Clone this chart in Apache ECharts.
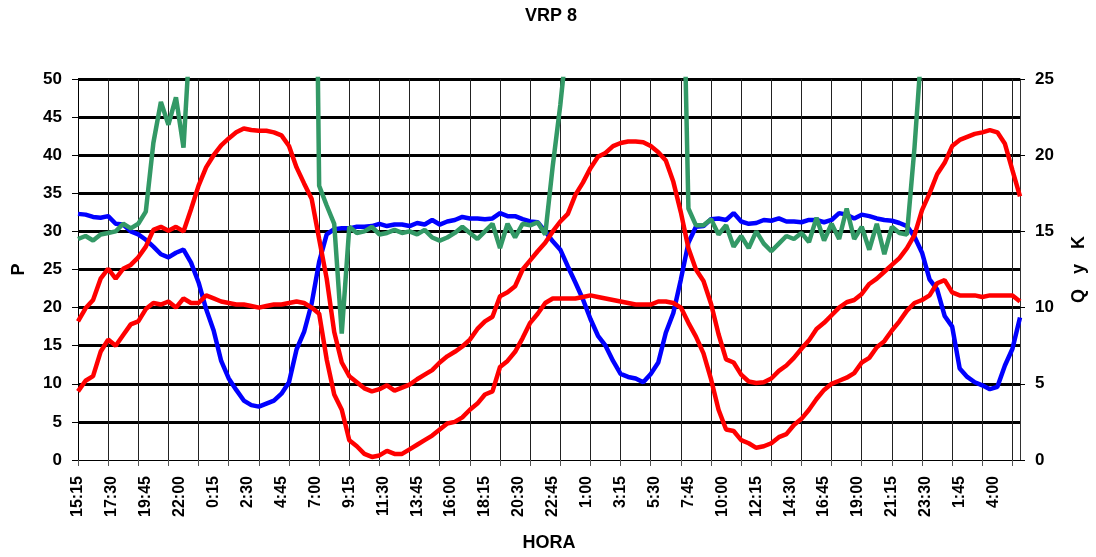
<!DOCTYPE html>
<html>
<head>
<meta charset="utf-8">
<title>VRP 8</title>
<script src="https://cdn.jsdelivr.net/npm/echarts@6/dist/echarts.min.js"></script>
<style>
html, body { margin: 0; padding: 0; background: #fff; }
#main { width: 1096px; height: 557px; }
</style>
</head>
<body>
<div id="main"></div>
<script>
// lecturas cada 15 min desde las 15:15, los valores de abajo van una lectura si y otra no
var startMin = 15 * 60 + 15
var nReadings = 251
var step = 2

var horas = []
for (var i = 0; i < nReadings; i++) {
    var m = startMin + i * 15
    var mm = m % 60
    horas.push((Math.floor(m / 60) % 24) + ':' + (mm < 10 ? '0' + mm : mm))
}

// P (azul) - eje izquierdo
var pAzul = [
    32.3, 32.2, 31.9, 31.8, 32.0, 31.0, 30.9, 30.0,
    29.6, 28.9, 28.0, 27.0, 26.6, 27.2, 27.6, 25.9,
    23.3, 19.8, 17.0, 13.0, 10.7, 9.2, 7.8, 7.2,
    7.0, 7.4, 7.8, 8.7, 10.2, 14.5, 16.8, 20.5,
    26.0, 29.6, 30.3, 30.4, 30.4, 30.6, 30.6, 30.7,
    31.0, 30.7, 30.9, 30.9, 30.7, 31.1, 30.9, 31.5,
    30.9, 31.3, 31.5, 31.9, 31.7, 31.7, 31.6, 31.7,
    32.4, 32.0, 32.0, 31.6, 31.3, 31.2, 30.0, 28.7,
    27.6, 25.4, 23.3, 21.1, 18.5, 16.3, 15.0, 13.0,
    11.3, 10.9, 10.7, 10.2, 11.3, 12.8, 16.7, 19.3,
    23.7, 28.5, 30.6, 30.7, 31.6, 31.7, 31.5, 32.4,
    31.3, 31.0, 31.1, 31.5, 31.4, 31.7, 31.3, 31.3,
    31.2, 31.5, 31.5, 31.2, 31.5, 32.4, 32.2, 31.7,
    32.2, 32.0, 31.7, 31.5, 31.4, 31.1, 30.7, 29.3,
    27.2, 23.7, 22.4, 18.9, 17.5, 12.0, 10.9, 10.2,
    9.8, 9.3, 9.6, 12.4, 14.6, 18.7
]

// rojo de gran oscilacion - eje izquierdo
var pRojo = [
    18.2, 19.9, 21.0, 23.8, 25.1, 23.8, 25.1, 25.6,
    26.6, 28.0, 30.2, 30.6, 30.1, 30.6, 30.0, 32.9,
    36.0, 38.4, 40.0, 41.3, 42.2, 43.0, 43.5, 43.3,
    43.2, 43.2, 43.0, 42.6, 41.2, 38.4, 36.3, 34.3,
    29.0, 23.8, 16.8, 12.8, 11.0, 10.2, 9.4, 9.0,
    9.3, 9.8, 9.1, 9.5, 9.9, 10.6, 11.2, 11.8,
    12.8, 13.6, 14.2, 14.9, 15.8, 17.2, 18.2, 18.8,
    21.5, 22.0, 22.8, 25.0, 26.2, 27.4, 28.5, 30.0,
    31.3, 32.3, 34.8, 36.4, 38.3, 39.8, 40.3, 41.2,
    41.6, 41.8, 41.8, 41.7, 41.2, 40.4, 39.3, 36.5,
    32.5, 27.8, 25.0, 23.5, 20.5, 16.5, 13.2, 12.8,
    11.2, 10.3, 10.1, 10.2, 10.7, 11.7, 12.4, 13.4,
    14.6, 15.7, 17.2, 18.0, 19.0, 20.0, 20.7, 21.0,
    21.8, 23.1, 23.8, 24.7, 25.6, 26.5, 27.8, 29.5,
    32.8, 35.0, 37.5, 39.0, 41.2, 42.0, 42.4, 42.8,
    43.0, 43.3, 43.0, 41.5, 38.0, 34.6
]

// K (rojo) - eje derecho
var kRojo = [
    4.5, 5.2, 5.5, 7.1, 7.9, 7.5, 8.2, 8.9,
    9.1, 9.9, 10.3, 10.2, 10.4, 10.0, 10.6, 10.3,
    10.3, 10.8, 10.6, 10.4, 10.3, 10.2, 10.2, 10.1,
    10.0, 10.1, 10.2, 10.2, 10.3, 10.4, 10.3, 10.0,
    9.6, 6.6, 4.3, 3.3, 1.3, 0.9, 0.4, 0.2,
    0.3, 0.6, 0.4, 0.4, 0.7, 1.0, 1.3, 1.6,
    2.0, 2.4, 2.5, 2.8, 3.3, 3.7, 4.3, 4.5,
    6.1, 6.5, 7.1, 8.0, 9.0, 9.6, 10.3, 10.6,
    10.6, 10.6, 10.6, 10.7, 10.8, 10.7, 10.6, 10.5,
    10.4, 10.3, 10.2, 10.2, 10.2, 10.4, 10.4, 10.3,
    10.0, 9.0, 8.1, 7.0, 5.3, 3.3, 2.0, 1.9,
    1.3, 1.1, 0.8, 0.9, 1.1, 1.5, 1.7, 2.3,
    2.7, 3.3, 4.0, 4.6, 5.0, 5.2, 5.4, 5.7,
    6.4, 6.7, 7.4, 7.8, 8.5, 9.1, 9.8, 10.3,
    10.5, 10.8, 11.6, 11.8, 11.0, 10.8, 10.8, 10.8,
    10.7, 10.8, 10.8, 10.8, 10.8, 10.4
]

// Q (verde) - eje derecho, se sale por arriba
var qVerde = [
    14.5, 14.7, 14.4, 14.8, 14.9, 15.0, 15.5, 15.2,
    15.5, 16.3, 20.8, 23.5, 22.0, 23.8, 20.5, 29.0,
    33, 35, 36, 36, 37, 37, 38, 38,
    38, 38, 37, 37, 36, 36, 40, 60,
    18.0, 16.7, 15.5, 8.3, 15.3, 14.9, 15.0, 15.3,
    14.8, 14.9, 15.1, 14.9, 15.0, 14.8, 15.1, 14.6,
    14.4, 14.6, 14.9, 15.3, 14.9, 14.5, 15.0, 15.5,
    13.9, 15.5, 14.6, 15.5, 15.4, 15.6, 14.8, 19.3,
    23.3, 28.0, 33, 35, 36, 37, 37, 38,
    38, 38, 38, 37, 37, 37, 36, 36,
    40.0, 16.5, 15.4, 15.4, 15.8, 14.8, 15.4, 14.0,
    14.7, 13.9, 15.0, 14.2, 13.7, 14.2, 14.7, 14.5,
    14.9, 14.3, 15.9, 14.4, 15.5, 14.5, 16.5, 14.5,
    15.3, 13.8, 15.5, 13.5, 15.3, 14.9, 14.8, 20.5,
    27.5, 33, 35, 36, 37, 37, 38, 38,
    38, 38, 38, 38, 38, 38
]

function pares(arr) {
    return arr.map(function(v, k) { return [k * step, v] })
}

var fuente = '"Liberation Sans", Arial, sans-serif'
var myChart = echarts.init(document.getElementById('main'))

function serie(nombre, arr, color, eje) {
    return {
        name : nombre,
        type : 'line',
        yAxisIndex : eje,
        data : pares(arr),
        symbol : 'none',
        clip : true,
        lineStyle : { color : color, width : 4.5 },
        itemStyle : { color : color }
    }
}

var option = {
    animation : false,
    backgroundColor : '#fff',
    title : {
        text : 'VRP 8',
        left : 520,
        top : 2,
        textStyle : { fontFamily : fuente, fontWeight : 'bold', fontSize : 18, color : '#000' }
    },
    grid : { left : 78, right : 68, top : 79, bottom : 95 },
    xAxis : {
        type : 'category',
        data : horas,
        boundaryGap : false,
        name : 'HORA',
        nameLocation : 'middle',
        nameGap : 74,
        nameTextStyle : { fontFamily : fuente, fontWeight : 'bold', fontSize : 18, color : '#000' },
        axisLine : { lineStyle : { color : '#000', width : 1 } },
        axisTick : { interval : 7, length : 6, lineStyle : { color : '#555' } },
        axisLabel : { interval : 8, rotate : 90, margin : 16, fontFamily : fuente, fontWeight : 'bold', fontSize : 16, color : '#000' },
        splitLine : { show : true, interval : 7, lineStyle : { color : '#222', width : 1 } }
    },
    yAxis : [ {
        type : 'value',
        min : 0, max : 50, interval : 5,
        name : 'P',
        nameLocation : 'middle',
        nameGap : 50,
        nameRotate : 90,
        nameTextStyle : { fontFamily : fuente, fontWeight : 'bold', fontSize : 18, color : '#000' },
        axisLine : { show : true, lineStyle : { color : '#000', width : 1 } },
        axisTick : { show : true, length : 6, lineStyle : { color : '#000' } },
        axisLabel : { margin : 16, fontFamily : fuente, fontWeight : 'bold', fontSize : 17, color : '#000' },
        splitLine : { show : true, showMinLine : false, lineStyle : { color : '#000', width : 3 } }
    }, {
        type : 'value',
        position : 'right',
        min : 0, max : 25, interval : 5,
        name : 'Q   y   K',
        nameLocation : 'middle',
        nameGap : 50,
        nameRotate : 90,
        nameTextStyle : { fontFamily : fuente, fontWeight : 'bold', fontSize : 18, color : '#000' },
        axisLine : { show : true, lineStyle : { color : '#333', width : 1 } },
        axisTick : { show : true, length : 5, lineStyle : { color : '#000' } },
        axisLabel : { margin : 15, fontFamily : fuente, fontWeight : 'bold', fontSize : 17, color : '#000' },
        splitLine : { show : false }
    } ],
    series : [
        serie('P', pAzul, '#0000ff', 0),
        serie('P2', pRojo, '#ff0000', 0),
        serie('K', kRojo, '#ff0000', 1),
        serie('Q', qVerde, '#339966', 1)
    ]
}

myChart.setOption(option)
</script>
</body>
</html>
